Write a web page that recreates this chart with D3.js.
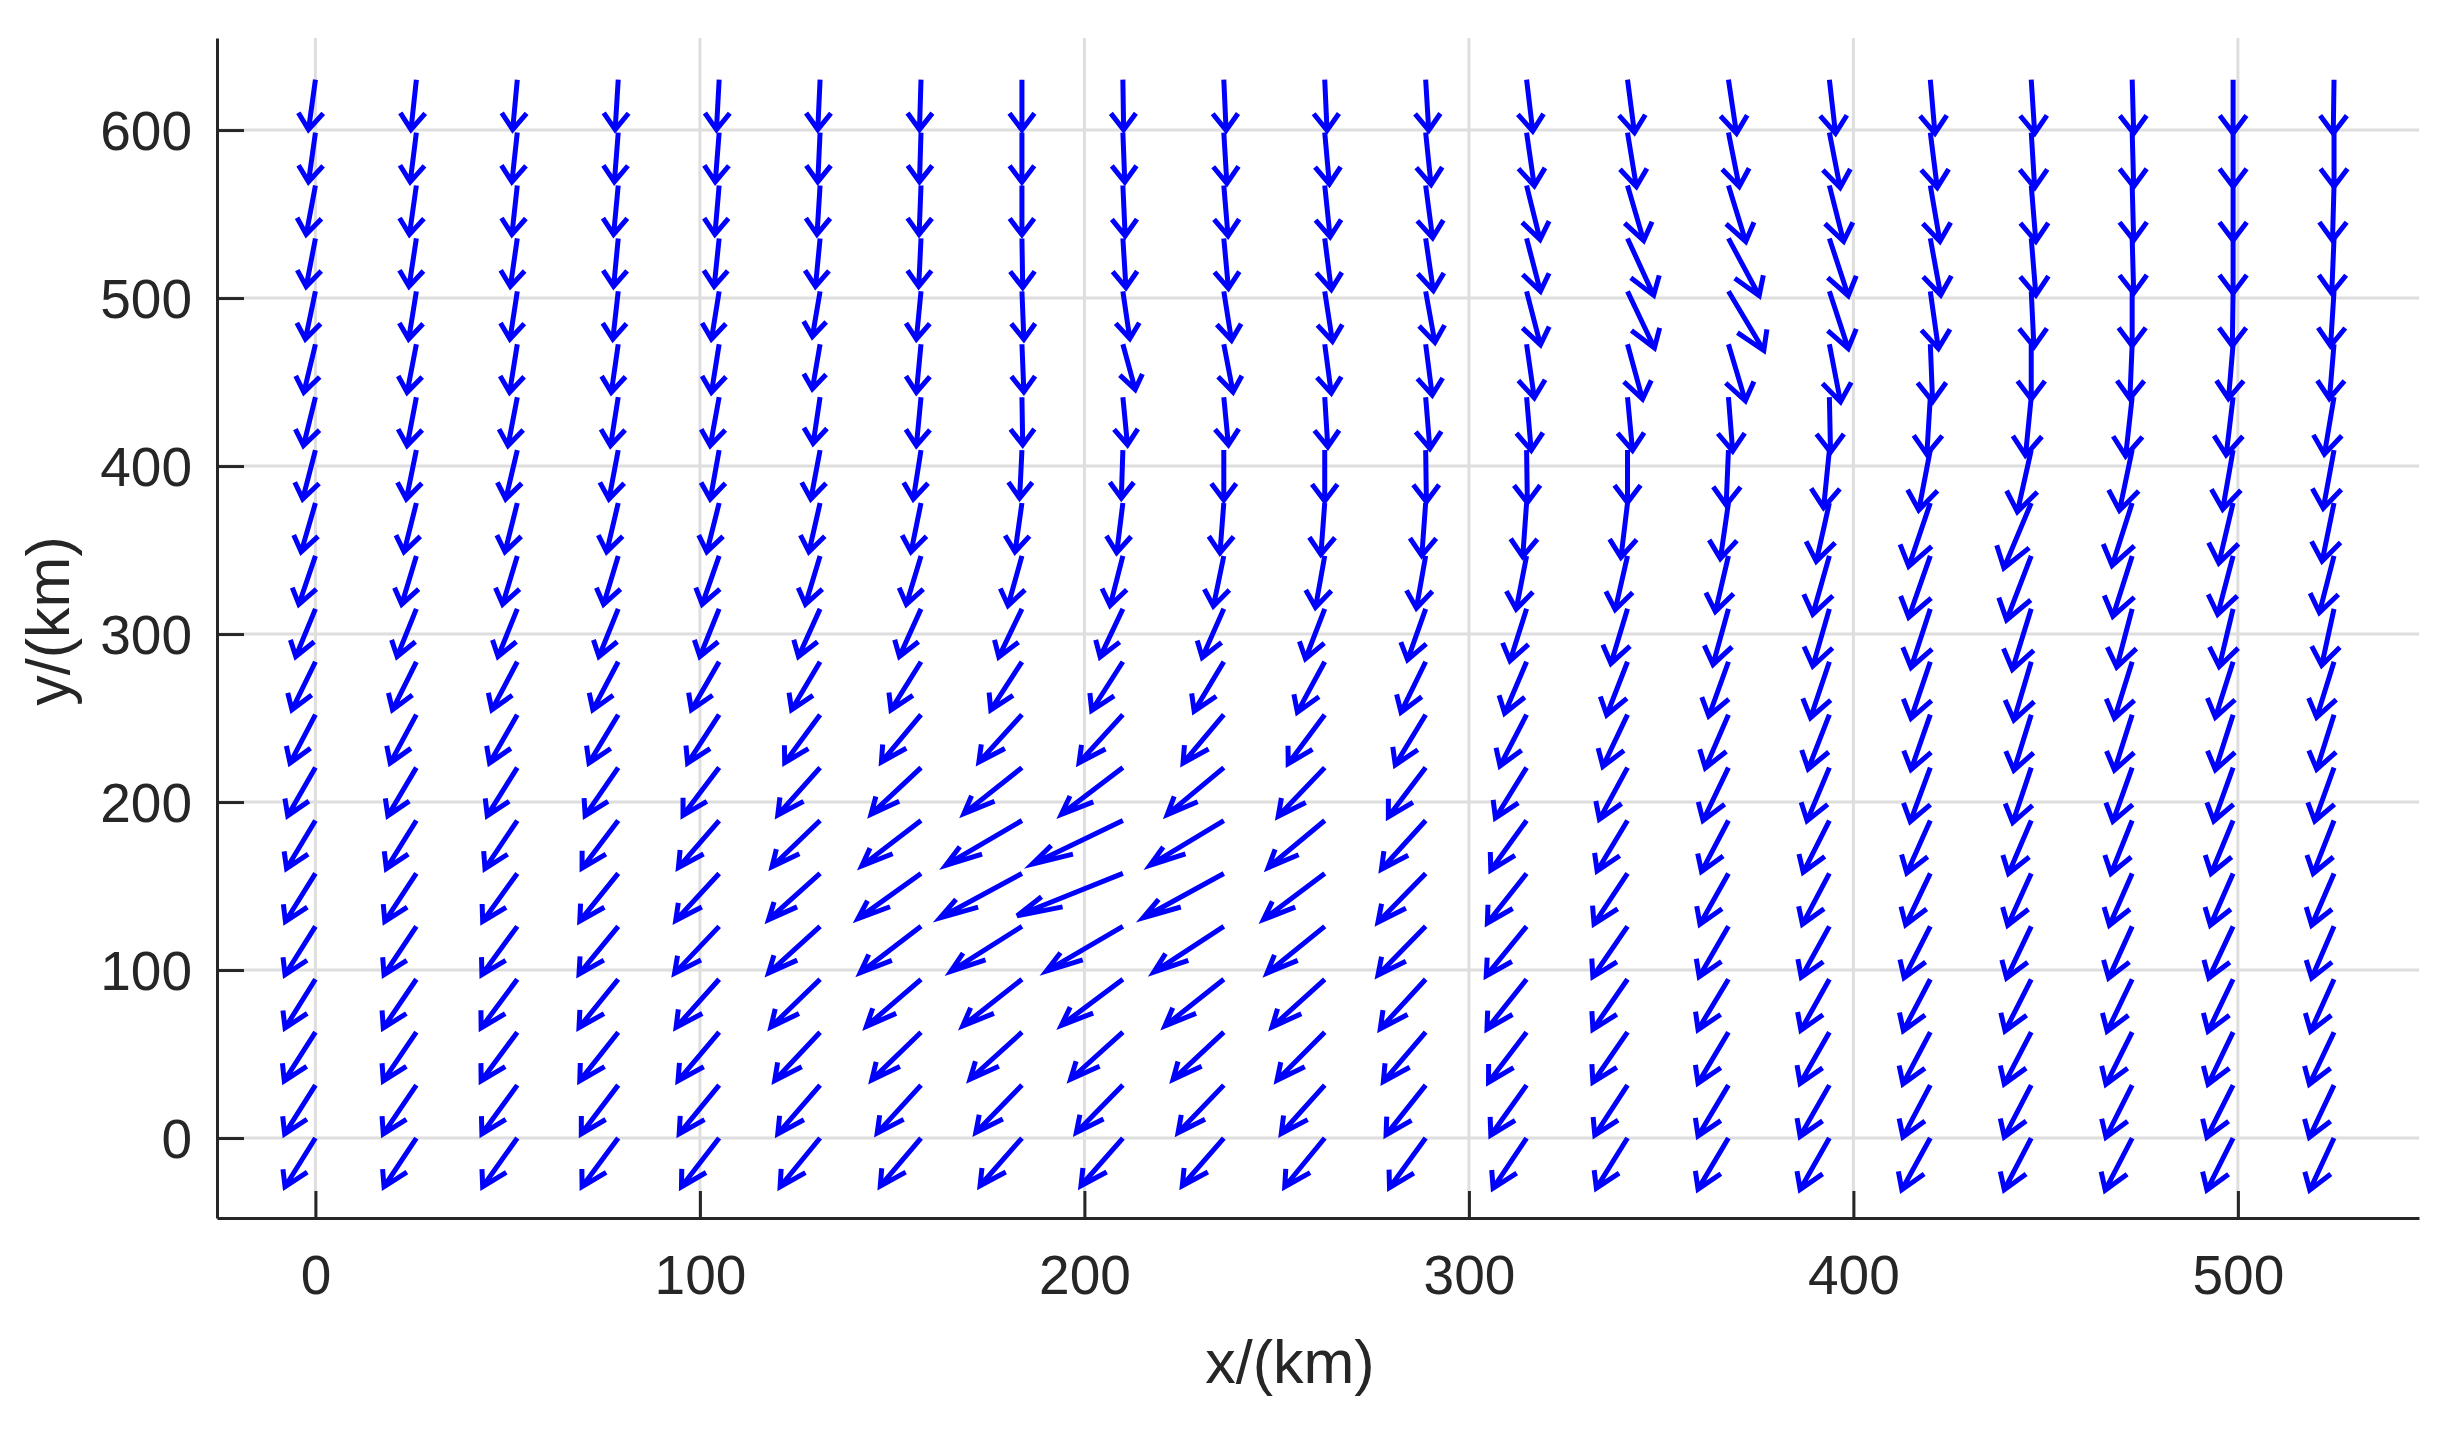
<!DOCTYPE html>
<html>

<head>
    <meta charset="utf-8">
    <style>
        body {
            margin: 0;
            background: #fff;
            overflow: hidden;
        }

        svg {
            display: block;
            font-family: 'Liberation Sans', Arial, sans-serif;
        }

        .axis .domain {
            stroke: #262626;
            stroke-width: 3px;
        }

        .axis .tick line {
            stroke: #262626;
            stroke-width: 3px;
        }

        .axis .tick text {
            font-size: 55px;
            fill: #262626;
        }

        .grid line {
            stroke: #dedede;
            stroke-width: 3px;
        }

        .arrow {
            fill: none;
            stroke: #0000ff;
            stroke-width: 5px;
            stroke-linejoin: miter;
            stroke-miterlimit: 4;
        }

        .axis-label {
            font-size: 61px;
            fill: #262626;
        }
    </style>
</head>

<body>
    <svg width="2457" height="1435"></svg>
</body>

<script src="https://d3js.org/d3.v7.min.js"></script>

<script>
    // grid points of the field (km)
    let xGrid = [0, 26.25, 52.5, 78.75, 105, 131.25, 157.5, 183.75, 210, 236.25, 262.5,
        288.75, 315, 341.25, 367.5, 393.75, 420, 446.25, 472.5, 498.75, 525];
    let yGrid = [0, 31.5, 63, 94.5, 126, 157.5, 189, 220.5, 252, 283.5, 315,
        346.5, 378, 409.5, 441, 472.5, 504, 535.5, 567, 598.5, 630];

    // arrow components, one row per yGrid value (bottom to top), one column per xGrid value
    let uRows = [
        [-7.9, -8.4, -9.0, -9.4, -9.8, -10.4, -10.6, -10.9, -10.9, -10.8, -10.4, -9.4, -8.7, -8.1, -7.9, -7.6, -7.4, -7.0, -7.0, -6.8, -6.3],
        [-8.0, -8.6, -9.2, -9.6, -10.4, -11.0, -11.4, -12.0, -12.1, -11.9, -11.3, -10.3, -9.3, -8.5, -7.9, -7.6, -7.1, -7.0, -6.8, -6.8, -6.4],
        [-8.1, -8.6, -9.4, -10.0, -10.7, -11.8, -12.8, -13.5, -13.6, -13.2, -12.4, -11.0, -9.9, -9.0, -7.9, -7.6, -7.1, -7.0, -6.8, -6.5, -6.4],
        [-7.9, -8.6, -9.4, -10.2, -11.2, -12.8, -14.2, -15.4, -16.0, -15.3, -13.7, -11.8, -10.3, -9.0, -7.9, -7.4, -7.0, -6.8, -6.5, -6.5, -6.1],
        [-7.9, -8.4, -9.2, -10.2, -11.6, -13.4, -15.8, -18.5, -19.9, -18.2, -15.0, -12.4, -10.5, -9.0, -7.6, -7.3, -6.8, -6.4, -6.1, -6.3, -5.8],
        [-7.8, -8.2, -9.0, -10.0, -11.3, -13.4, -16.4, -21.3, -27.5, -21.0, -15.9, -12.4, -10.2, -8.7, -7.4, -7.0, -6.4, -6.1, -5.9, -5.9, -5.8],
        [-7.5, -7.8, -8.4, -9.4, -10.6, -12.5, -15.4, -19.8, -23.6, -19.2, -14.7, -11.5, -9.3, -7.9, -7.0, -6.8, -6.1, -5.9, -5.5, -5.7, -5.4],
        [-7.2, -7.4, -7.8, -8.6, -9.4, -11.0, -13.0, -15.1, -16.0, -14.7, -12.1, -9.7, -8.1, -7.3, -6.6, -5.8, -5.2, -4.8, -5.0, -5.0, -5.0],
        [-6.6, -6.8, -7.2, -7.6, -8.2, -9.2, -10.3, -11.2, -11.4, -10.6, -9.5, -7.9, -6.9, -6.4, -6.0, -5.5, -5.0, -4.5, -4.6, -4.6, -4.5],
        [-6.1, -6.2, -6.6, -6.6, -7.2, -7.4, -7.8, -8.1, -8.1, -7.7, -7.1, -6.4, -5.7, -5.4, -5.1, -4.9, -5.0, -4.5, -4.6, -4.6, -4.5],
        [-5.1, -5.0, -5.0, -5.0, -5.0, -5.6, -5.6, -6.0, -5.9, -5.6, -5.0, -4.7, -4.3, -4.3, -4.0, -4.3, -5.0, -4.9, -4.0, -3.6, -3.2],
        [-4.3, -3.8, -3.8, -3.8, -4.4, -3.8, -3.8, -3.6, -3.3, -2.7, -2.4, -2.4, -2.7, -3.2, -3.4, -4.3, -5.6, -6.4, -5.0, -4.0, -3.8],
        [-3.7, -3.2, -3.2, -3.0, -3.2, -2.9, -2.6, -1.8, -1.6, -1.0, -1.0, -1.0, -1.0, -1.7, -2.1, -3.4, -5.6, -7.1, -5.2, -3.7, -3.1],
        [-3.3, -2.6, -3.0, -2.4, -2.3, -2.4, -2.0, -0.6, -0.4, 0, 0, 0.2, 0.2, 0, -0.6, -1.5, -3.0, -3.6, -3.3, -2.7, -2.8],
        [-3.1, -2.4, -2.4, -2.0, -2.3, -1.8, -1.2, 0.2, 1.2, 1.2, 0.8, 1.1, 1.2, 1.3, 1.1, 0.3, -0.9, -1.5, -1.7, -1.8, -2.5],
        [-3.0, -2.4, -2.0, -1.8, -2.0, -2.0, -1.2, 0.5, 3.2, 2.4, 1.7, 1.7, 2.0, 3.9, 4.4, 2.9, 0.6, 0, -0.6, -1.2, -1.2],
        [-2.6, -2.0, -1.9, -1.4, -2.0, -2.0, -1.2, 0.5, 1.8, 2.0, 2.0, 2.4, 3.6, 7.0, 9.2, 4.9, 2.1, 0.7, 0, -0.2, -0.9],
        [-2.4, -1.9, -1.8, -1.2, -1.3, -1.2, -0.6, 0.2, 0.8, 1.2, 1.7, 2.0, 3.6, 6.8, 8.0, 4.9, 2.7, 1.2, 0.4, 0, -0.6],
        [-2.4, -1.8, -1.4, -1.2, -1.1, -0.8, -0.5, 0, 0.6, 1.1, 1.4, 1.8, 3.5, 4.2, 4.5, 3.7, 2.5, 1.2, 0.4, 0, -0.4],
        [-1.8, -1.6, -1.4, -1.0, -1.0, -0.6, -0.4, 0, 0.5, 0.8, 1.2, 1.4, 2.0, 2.3, 2.8, 2.8, 1.8, 0.9, 0.4, 0, 0],
        [-1.8, -1.4, -1.2, -0.8, -0.7, -0.6, -0.4, 0, 0.2, 0.6, 0.6, 0.8, 1.6, 1.8, 2.1, 1.6, 1.2, 0.9, 0.4, 0, -0.2]
    ];

    let vRows = [
        [-29.0, -29.0, -29.0, -29.0, -29.0, -29.0, -28.6, -28.4, -28.4, -28.4, -29.0, -29.6, -29.8, -29.8, -30.4, -30.6, -30.8, -30.8, -31.0, -31.0, -31.0],
        [-29.0, -29.0, -29.0, -29.0, -29.0, -29.0, -28.6, -28.2, -28.2, -28.4, -28.8, -29.6, -29.8, -29.8, -30.3, -30.5, -30.8, -30.8, -31.0, -31.0, -31.0],
        [-29.0, -29.0, -29.0, -29.0, -29.0, -28.8, -28.4, -28.0, -28.0, -28.2, -28.6, -29.4, -29.8, -29.8, -30.3, -30.5, -30.8, -30.8, -31.0, -31.0, -31.0],
        [-29.0, -29.0, -29.0, -28.8, -28.6, -28.4, -28.0, -27.8, -27.4, -27.8, -28.4, -29.4, -29.6, -29.8, -30.0, -30.3, -30.6, -30.8, -31.0, -31.0, -31.0],
        [-28.8, -28.8, -28.8, -28.4, -28.0, -27.8, -27.6, -26.8, -26.6, -27.2, -27.8, -29.0, -29.5, -30.0, -30.0, -30.3, -30.6, -30.8, -30.8, -30.8, -30.8],
        [-28.6, -28.6, -28.6, -28.4, -28.0, -27.5, -26.9, -26.4, -25.2, -26.4, -27.4, -29.0, -29.5, -30.0, -30.2, -30.3, -30.6, -30.8, -30.8, -30.8, -30.8],
        [-28.6, -28.6, -28.6, -28.4, -28.0, -27.5, -27.0, -26.6, -26.0, -26.6, -28.0, -29.0, -29.5, -30.0, -30.4, -30.8, -31.2, -31.5, -31.5, -31.5, -31.5],
        [-28.6, -28.6, -28.6, -28.6, -28.4, -28.2, -27.8, -27.4, -27.8, -28.0, -29.0, -29.3, -30.0, -30.8, -31.5, -31.7, -32.1, -32.7, -32.0, -31.8, -31.8],
        [-28.8, -28.8, -28.8, -28.8, -28.8, -28.6, -28.2, -28.2, -28.6, -28.8, -29.2, -29.9, -30.5, -30.8, -31.7, -32.3, -32.7, -33.1, -33.0, -32.8, -32.5],
        [-28.6, -28.6, -28.6, -28.6, -28.6, -28.6, -28.6, -28.6, -29.0, -29.4, -30.0, -30.0, -30.6, -31.7, -32.3, -33.3, -33.7, -34.7, -33.6, -33.0, -33.0],
        [-28.4, -28.4, -28.4, -28.4, -28.4, -28.4, -28.4, -28.6, -28.6, -29.0, -29.7, -30.4, -30.9, -32.5, -33.1, -34.1, -34.9, -36.1, -34.7, -34.3, -33.6],
        [-28.8, -28.8, -28.8, -28.8, -28.8, -28.8, -28.8, -29.5, -29.5, -29.9, -30.6, -31.0, -31.7, -32.0, -33.1, -34.7, -36.5, -38.1, -35.9, -34.8, -33.7],
        [-29.1, -29.1, -29.1, -29.1, -29.1, -29.1, -29.1, -29.1, -29.5, -29.7, -30.6, -31.3, -31.9, -32.3, -33.1, -34.7, -37.7, -38.7, -37.2, -35.7, -34.6],
        [-29.1, -29.1, -29.1, -29.1, -29.1, -29.1, -29.1, -28.6, -28.6, -29.7, -30.4, -30.8, -31.3, -31.2, -32.7, -34.3, -35.7, -36.7, -35.9, -35.2, -34.6],
        [-28.8, -28.8, -28.8, -28.8, -28.8, -27.5, -28.8, -28.4, -28.4, -28.4, -29.5, -30.6, -31.7, -31.7, -32.1, -32.7, -34.1, -34.7, -35.0, -34.4, -33.9],
        [-28.6, -28.6, -28.6, -28.6, -28.6, -26.6, -28.6, -28.4, -26.9, -28.4, -29.1, -30.2, -31.9, -32.7, -33.7, -34.3, -34.1, -32.7, -32.4, -32.4, -32.4],
        [-28.4, -28.4, -28.4, -28.4, -28.4, -26.9, -28.4, -28.6, -28.2, -29.1, -29.7, -30.4, -31.9, -33.7, -35.2, -34.1, -34.1, -33.0, -32.4, -32.4, -32.4],
        [-28.6, -28.6, -28.6, -28.6, -28.6, -28.6, -28.6, -29.3, -29.3, -29.7, -30.4, -31.1, -31.5, -33.9, -34.1, -34.1, -33.7, -33.7, -32.6, -32.6, -32.6],
        [-29.1, -29.1, -29.1, -29.1, -29.1, -29.1, -29.1, -29.3, -30.0, -30.0, -30.6, -31.1, -32.2, -32.8, -33.3, -33.3, -33.3, -33.3, -32.6, -32.6, -32.6],
        [-29.3, -29.3, -29.3, -29.3, -29.3, -29.3, -29.3, -29.5, -29.5, -30.2, -30.6, -31.0, -31.7, -32.2, -32.2, -32.8, -32.8, -32.8, -32.2, -32.2, -32.2],
        [-29.7, -29.7, -29.7, -29.7, -29.7, -29.7, -29.7, -29.9, -29.9, -30.2, -30.2, -30.2, -30.6, -31.5, -31.9, -31.9, -31.9, -31.9, -31.9, -31.9, -31.9]
    ];

    // tick labels
    let xTicks = [0, 100, 200, 300, 400, 500];
    let yTicks = [0, 100, 200, 300, 400, 500, 600];

    let svg = d3.select("svg");

    let plot = {
        left: 217,
        right: 2419,
        top: 38,
        bottom: 1218
    };

    let x = d3.scaleLinear()
        .domain([-25.6, 547.1])
        .range([plot.left, plot.right]);

    let y = d3.scaleLinear()
        .domain([-47.6, 654.8])
        .range([plot.bottom, plot.top]);

    // grid lines
    let grid = svg.append("g").attr("class", "grid");

    grid.selectAll(".gx")
        .data(xTicks)
        .join("line")
        .attr("class", "gx")
        .attr("x1", d => x(d))
        .attr("x2", d => x(d))
        .attr("y1", plot.top)
        .attr("y2", plot.bottom);

    grid.selectAll(".gy")
        .data(yTicks)
        .join("line")
        .attr("class", "gy")
        .attr("x1", plot.left)
        .attr("x2", plot.right)
        .attr("y1", d => y(d))
        .attr("y2", d => y(d));

    // quiver arrows, head shape as in matlab's quiver (computed in data units)
    let headLen = 0.33;
    let headWidth = 0.33;

    let arrows = [];
    yGrid.forEach((yv, j) => {
        xGrid.forEach((xv, i) => {
            arrows.push({ x: xv, y: yv, u: uRows[j][i], v: vRows[j][i] });
        });
    });

    function arrowPath(d) {
        let tx = d.x + d.u;
        let ty = d.y + d.v;
        let b1x = tx - headLen * (d.u + headWidth * d.v);
        let b1y = ty - headLen * (d.v - headWidth * d.u);
        let b2x = tx - headLen * (d.u - headWidth * d.v);
        let b2y = ty - headLen * (d.v + headWidth * d.u);
        return `M${x(d.x)},${y(d.y)}L${x(tx)},${y(ty)}` +
            `M${x(b1x)},${y(b1y)}L${x(tx)},${y(ty)}L${x(b2x)},${y(b2y)}`;
    }

    svg.append("g")
        .selectAll("path")
        .data(arrows)
        .join("path")
        .attr("class", "arrow")
        .attr("d", arrowPath);

    // axes
    let xAxis = svg.append("g")
        .attr("class", "x axis")
        .attr("transform", `translate(0,${plot.bottom})`)
        .call(d3.axisBottom(x)
            .tickValues(xTicks)
            .tickFormat(d3.format("d"))
            .tickSizeInner(-27)
            .tickSizeOuter(0)
            .tickPadding(37));

    let yAxis = svg.append("g")
        .attr("class", "y axis")
        .attr("transform", `translate(${plot.left},0)`)
        .call(d3.axisLeft(y)
            .tickValues(yTicks)
            .tickFormat(d3.format("d"))
            .tickSizeInner(-27)
            .tickSizeOuter(0)
            .tickPadding(25));

    yAxis.selectAll(".tick text").attr("dy", "0.36em");

    // axis labels
    svg.append("text")
        .attr("class", "axis-label")
        .attr("x", 1290)
        .attr("y", 1383)
        .attr("text-anchor", "middle")
        .text("x/(km)");

    svg.append("text")
        .attr("class", "axis-label")
        .attr("transform", "translate(69,621) rotate(-90)")
        .attr("text-anchor", "middle")
        .text("y/(km)");
</script>

</html>
